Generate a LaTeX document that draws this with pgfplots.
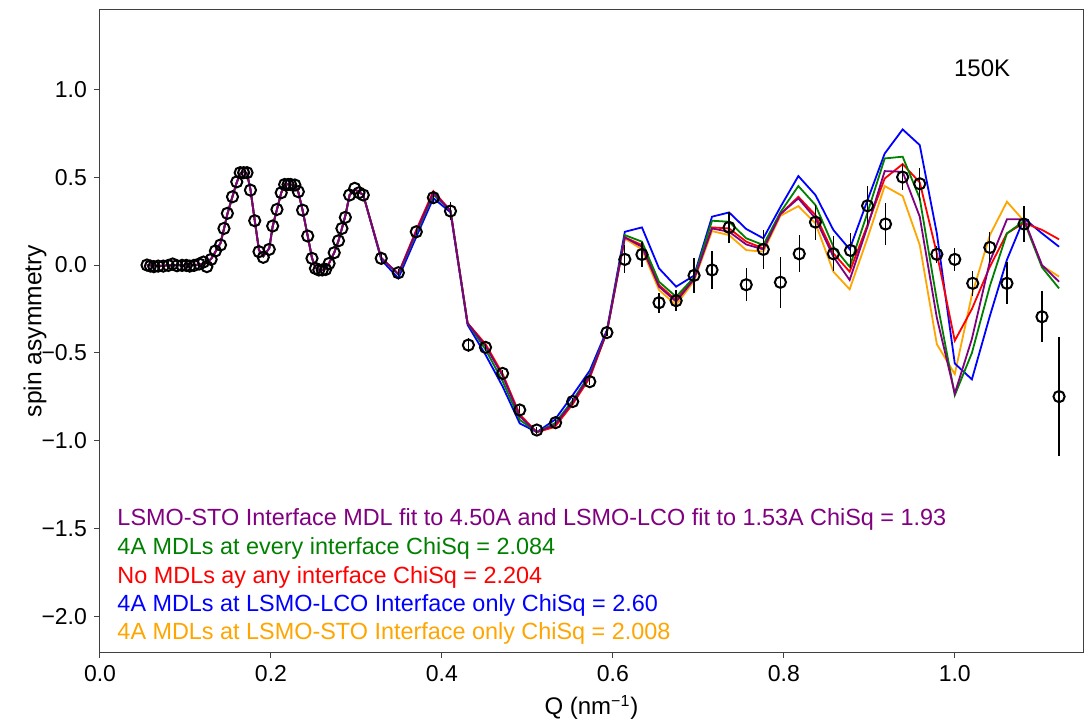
\documentclass[border=0pt]{standalone}
\usepackage{fontspec}
\setmainfont{Liberation Sans}
\usepackage{pgfplots}
\usepackage{pgfplotstable}
\pgfplotsset{compat=1.18}
\definecolor{mplpurple}{HTML}{800080}
\definecolor{mplgreen}{HTML}{008000}
\definecolor{mplred}{HTML}{FF0000}
\definecolor{mplblue}{HTML}{0000FF}
\definecolor{mplorange}{HTML}{FFA500}

\pgfplotstableread{
Q A E
0.055 0.000 0
0.059 -0.006 0
0.063 -0.009 0
0.068 -0.006 0
0.074 -0.006 0
0.080 -0.002 0
0.085 0.006 0
0.090 -0.004 0
0.096 -0.002 0
0.101 -0.002 0
0.105 -0.006 0
0.110 -0.002 0
0.116 0.006 0
0.121 0.017 0
0.125 -0.009 0
0.130 0.032 0
0.135 0.080 0
0.141 0.114 0
0.145 0.208 0
0.149 0.294 0
0.155 0.388 0
0.160 0.473 0
0.164 0.525 0
0.168 0.525 0
0.172 0.525 0
0.176 0.426 0
0.181 0.252 0
0.186 0.076 0
0.191 0.044 0
0.198 0.089 0
0.202 0.222 0
0.207 0.316 0
0.212 0.411 0
0.216 0.458 0
0.220 0.458 0
0.223 0.458 0
0.228 0.455 0
0.232 0.417 0
0.237 0.312 0
0.243 0.165 0
0.248 0.038 0
0.252 -0.019 0
0.256 -0.028 0
0.260 -0.028 0
0.264 -0.025 0
0.268 0.009 0
0.274 0.070 0
0.279 0.138 0
0.283 0.208 0
0.287 0.271 0
0.292 0.398 0
0.298 0.436 0
0.303 0.411 0
0.308 0.398 0
0.329 0.038 0.03
0.349 -0.044 0.02
0.370 0.189 0.02
0.390 0.383 0.03
0.410 0.307 0.05
0.431 -0.455 0.04
0.451 -0.468 0.02
0.471 -0.616 0.02
0.491 -0.824 0.02
0.511 -0.938 0.02
0.533 -0.896 0.02
0.553 -0.776 0.02
0.573 -0.663 0.02
0.593 -0.384 0.02
0.614 0.032 0.08
0.634 0.060 0.07
0.654 -0.214 0.057
0.674 -0.203 0.06
0.695 -0.059 0.10
0.716 -0.028 0.11
0.736 0.214 0.09
0.756 -0.112 0.095
0.776 0.089 0.11
0.796 -0.098 0.145
0.818 0.064 0.105
0.837 0.244 0.10
0.858 0.064 0.10
0.878 0.083 0.10
0.898 0.337 0.11
0.919 0.233 0.118
0.939 0.500 0.075
0.959 0.462 0.09
0.979 0.061 0.05
1.000 0.032 0.065
1.021 -0.104 0.07
1.041 0.100 0.09
1.061 -0.104 0.12
1.081 0.233 0.10
1.102 -0.294 0.145
1.122 -0.748 0.34
}\datatab

\pgfplotstableread{
Q pu gr re bl or
0.055 0.000 0.000 0.000 0.000 0.000
0.063 -0.004 -0.004 -0.004 -0.004 -0.004
0.074 -0.004 -0.004 -0.004 -0.004 -0.004
0.085 0.000 0.000 0.000 0.000 0.000
0.096 -0.002 -0.002 -0.002 -0.002 -0.002
0.105 -0.002 -0.002 -0.002 -0.002 -0.002
0.116 0.002 0.002 0.002 0.002 0.002
0.121 0.008 0.008 0.008 0.008 0.008
0.125 0.015 0.015 0.015 0.015 0.015
0.130 0.035 0.035 0.035 0.035 0.035
0.135 0.075 0.075 0.075 0.075 0.075
0.141 0.125 0.125 0.125 0.125 0.125
0.145 0.205 0.205 0.205 0.205 0.205
0.149 0.290 0.290 0.290 0.290 0.290
0.155 0.390 0.390 0.390 0.390 0.390
0.160 0.470 0.470 0.470 0.470 0.470
0.164 0.520 0.520 0.520 0.520 0.520
0.168 0.530 0.530 0.530 0.530 0.530
0.172 0.520 0.520 0.520 0.520 0.520
0.176 0.430 0.430 0.430 0.430 0.430
0.181 0.255 0.255 0.255 0.255 0.255
0.186 0.085 0.085 0.085 0.085 0.085
0.191 0.050 0.050 0.050 0.050 0.050
0.198 0.095 0.095 0.095 0.095 0.095
0.202 0.220 0.220 0.220 0.220 0.220
0.207 0.316 0.316 0.316 0.316 0.316
0.212 0.410 0.410 0.410 0.410 0.410
0.216 0.455 0.455 0.455 0.455 0.455
0.220 0.460 0.460 0.460 0.460 0.460
0.223 0.458 0.458 0.458 0.458 0.458
0.228 0.450 0.450 0.450 0.450 0.450
0.232 0.415 0.415 0.415 0.415 0.415
0.237 0.312 0.312 0.312 0.312 0.312
0.243 0.165 0.165 0.165 0.165 0.165
0.248 0.040 0.040 0.040 0.040 0.040
0.252 -0.015 -0.015 -0.015 -0.015 -0.015
0.256 -0.028 -0.028 -0.028 -0.028 -0.028
0.260 -0.028 -0.028 -0.028 -0.028 -0.028
0.264 -0.022 -0.022 -0.022 -0.022 -0.022
0.268 0.010 0.010 0.010 0.010 0.010
0.274 0.070 0.070 0.070 0.070 0.070
0.279 0.138 0.138 0.138 0.138 0.138
0.283 0.208 0.208 0.208 0.208 0.208
0.287 0.280 0.280 0.280 0.280 0.280
0.292 0.398 0.398 0.398 0.398 0.398
0.298 0.430 0.430 0.430 0.430 0.430
0.303 0.415 0.415 0.415 0.415 0.415
0.308 0.398 0.398 0.398 0.398 0.398
0.329 0.040 0.040 0.040 0.030 0.040
0.349 -0.050 -0.055 -0.050 -0.075 -0.050
0.370 0.190 0.180 0.200 0.160 0.190
0.390 0.410 0.400 0.420 0.380 0.410
0.410 0.310 0.310 0.310 0.300 0.310
0.430 -0.330 -0.330 -0.330 -0.340 -0.330
0.451 -0.460 -0.480 -0.450 -0.510 -0.450
0.471 -0.630 -0.660 -0.620 -0.690 -0.620
0.491 -0.860 -0.880 -0.850 -0.900 -0.850
0.511 -0.950 -0.950 -0.950 -0.950 -0.950
0.532 -0.910 -0.900 -0.920 -0.880 -0.920
0.553 -0.780 -0.770 -0.790 -0.740 -0.790
0.573 -0.630 -0.620 -0.640 -0.600 -0.640
0.593 -0.380 -0.380 -0.380 -0.370 -0.380
0.614 0.157 0.170 0.157 0.189 0.151
0.634 0.104 0.133 0.114 0.214 0.089
0.654 -0.123 -0.095 -0.114 -0.019 -0.142
0.674 -0.208 -0.180 -0.199 -0.123 -0.227
0.695 -0.080 -0.070 -0.070 -0.060 -0.090
0.716 0.208 0.252 0.214 0.275 0.193
0.736 0.189 0.246 0.208 0.299 0.170
0.756 0.117 0.152 0.133 0.205 0.085
0.776 0.089 0.114 0.095 0.152 0.076
0.796 0.290 0.300 0.290 0.330 0.280
0.817 0.379 0.449 0.388 0.506 0.335
0.837 0.265 0.341 0.284 0.398 0.237
0.858 0.047 0.104 0.066 0.199 -0.038
0.877 -0.085 -0.010 -0.038 0.090 -0.138
0.898 0.220 0.300 0.230 0.370 0.155
0.918 0.534 0.606 0.492 0.634 0.449
0.939 0.530 0.616 0.574 0.771 0.392
0.959 0.275 0.379 0.470 0.682 0.114
0.979 -0.300 -0.200 0.066 0.180 -0.450
1.000 -0.730 -0.740 -0.430 -0.560 -0.620
1.020 -0.420 -0.500 -0.250 -0.650 -0.170
1.041 0.020 -0.120 -0.010 -0.290 0.170
1.061 0.260 0.180 0.180 0.030 0.360
1.081 0.260 0.250 0.240 0.265 0.250
1.102 0.000 -0.013 0.200 0.180 -0.004
1.122 -0.095 -0.133 0.146 0.104 -0.066
}\modeltab

\begin{document}
\begin{tikzpicture}
\useasboundingbox (-50pt,-36pt) rectangle (495.5pt,326pt);
\begin{axis}[
  scale only axis, width=491.5pt, height=321pt,
  xmin=0, xmax=1.15, ymin=-2.2, ymax=1.45,
  axis line style={draw=black!75, line width=0.5pt},
  tick style={black!75, line width=0.5pt},
  tick align=outside, major tick length=3pt,
  xtick pos=bottom, ytick pos=left,
  xtick={0,0.2,0.4,0.6,0.8,1.0}, xticklabels={0.0,0.2,0.4,0.6,0.8,1.0},
  ytick={-2,-1.5,-1,-0.5,0,0.5,1}, yticklabels={−2.0,−1.5,−1.0,−0.5,0.0,0.5,1.0},
  ticklabel style={font=\fontsize{11.5}{13}\selectfont},
  xlabel={Q (nm\textsuperscript{−1})}, ylabel={spin asymmetry},
  xlabel style={font=\fontsize{12}{14}\selectfont},
  every axis y label/.style={at={(axis description cs:-0.066,0.5)}, rotate=90, anchor=center, font=\fontsize{12.3}{14}\selectfont},
  every axis plot/.append style={line width=0.9pt},
]
\addplot[mplorange, no markers] table[x=Q, y=or] {\modeltab};
\addplot[mplblue, no markers] table[x=Q, y=bl] {\modeltab};
\addplot[mplred, no markers] table[x=Q, y=re] {\modeltab};
\addplot[mplgreen, no markers] table[x=Q, y=gr] {\modeltab};
\addplot[mplpurple, no markers] table[x=Q, y=pu] {\modeltab};
\addplot[black, only marks, mark=o, mark size=2.8pt, mark options={line width=1pt, black},
  error bars/.cd, y dir=both, y explicit, error mark=none,
  error bar style={line width=0.65pt, black}]
  table[x=Q, y=A, y error=E] {\datatab};
\node[anchor=center, font=\fontsize{12}{14}\selectfont] at (axis cs:1.032,1.119) {150K};
\node[anchor=west, text=mplpurple, font=\fontsize{11.7}{13}\selectfont, inner sep=0pt] at (axis cs:0.02,-1.449) {LSMO-STO Interface MDL fit to 4.50A and LSMO-LCO fit to 1.53A ChiSq = 1.93};
\node[anchor=west, text=mplgreen, font=\fontsize{11.7}{13}\selectfont, inner sep=0pt] at (axis cs:0.02,-1.614) {4A MDLs at every interface ChiSq = 2.084};
\node[anchor=west, text=mplred, font=\fontsize{11.7}{13}\selectfont, inner sep=0pt] at (axis cs:0.02,-1.778) {No MDLs ay any interface ChiSq = 2.204};
\node[anchor=west, text=mplblue, font=\fontsize{11.7}{13}\selectfont, inner sep=0pt] at (axis cs:0.02,-1.937) {4A MDLs at LSMO-LCO Interface only ChiSq = 2.60};
\node[anchor=west, text=mplorange, font=\fontsize{11.7}{13}\selectfont, inner sep=0pt] at (axis cs:0.02,-2.097) {4A MDLs at LSMO-STO Interface only ChiSq = 2.008};
\end{axis}
\end{tikzpicture}
\end{document}
